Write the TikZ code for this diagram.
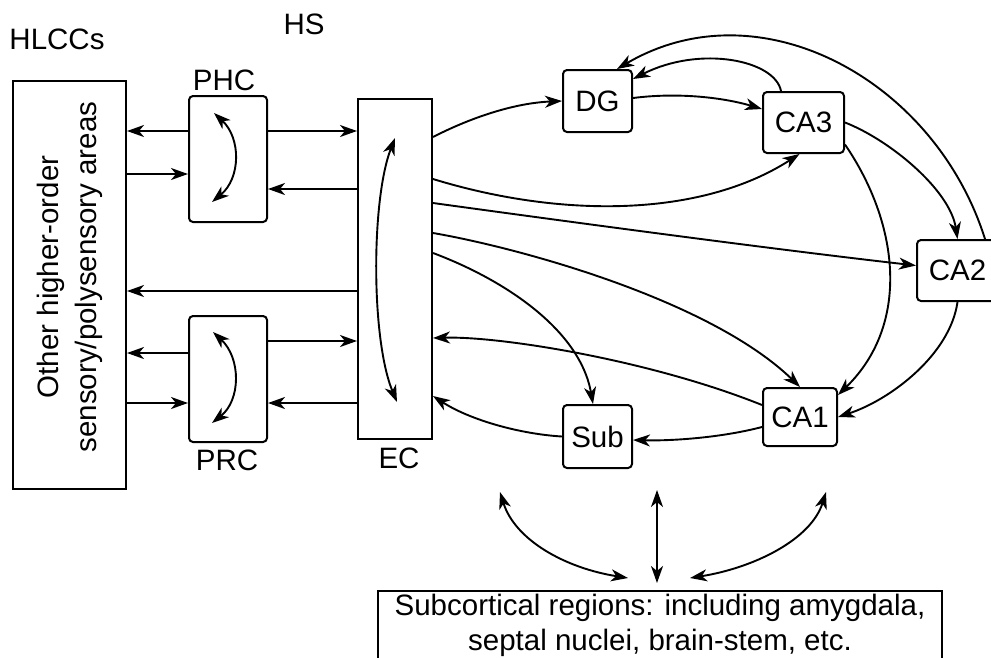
\documentclass[tikz,border=0pt]{standalone}
\usepackage{fontspec}
\setmainfont{Liberation Sans}
\usetikzlibrary{arrows.meta,calc}
\begin{document}
\begin{tikzpicture}[x=1pt,y=-1pt,
  >={Stealth[length=17pt,width=12pt,inset=5pt]},
  every node/.style={font=\fontsize{29.5}{35}\selectfont},
  rbox/.style={draw,line width=2pt,rounded corners=4pt,inner sep=0pt},
  sbox/.style={draw,line width=2pt,inner sep=0pt},
  arr/.style={->,line width=1.9pt},
  darr/.style={<->,line width=1.9pt},
  lbl/.style={inner sep=0pt}]
\useasboundingbox (0,0) rectangle (991,657);
\clip (0,0) rectangle (991,657);

% column headings
\node[lbl] (hlccs) at (57,39) {HLCCs};
\node[lbl] (hs) at (304,24) {HS};

% higher-order cortical areas
\node[sbox, minimum width=113pt, minimum height=408pt] (HL) at (69.5,285) {};
\node[lbl, rotate=90, align=center, font=\fontsize{29.5}{38}\selectfont] (hltext) at (70,277)
  {Other higher-order\\sensory/polysensory areas};

% parahippocampal / perirhinal / entorhinal
\node[rbox, minimum width=78pt, minimum height=126pt] (PHC) at (228,159) {};
\node[lbl] (phclbl) at (224,80) {PHC};
\node[rbox, minimum width=78pt, minimum height=126pt] (PRC) at (228,379) {};
\node[lbl] (prclbl) at (227,460) {PRC};
\node[sbox, minimum width=74pt, minimum height=340pt] (EC) at (395,269) {};
\node[lbl] (eclbl) at (399,458) {EC};

% hippocampal subfields
\node[rbox, minimum width=69pt, minimum height=62pt] (DG)  at (597.5,101)   {DG};
\node[rbox, minimum width=81pt, minimum height=61pt] (CA3) at (803.5,122.5) {CA3};
\node[rbox, minimum width=81pt, minimum height=61pt] (CA2) at (957.5,270.5) {CA2};
\node[rbox, minimum width=74pt, minimum height=58pt] (CA1) at (800,417)     {CA1};
\node[rbox, minimum width=69pt, minimum height=63pt] (Sub) at (597.5,436.5) {Sub};

% subcortical regions
\node[sbox, anchor=north, minimum width=564pt, minimum height=100pt] (SCbox) at (660,590) {};
\node[lbl, align=center] (SC) at (660,625)
  {Subcortical regions: including amygdala,\\septal nuclei, brain-stem, etc.};

% intrinsic connections within PHC, PRC and EC
\draw[darr] ($(PHC)+(-14,-46)$) .. controls ($(PHC)+(13,-21)$) and ($(PHC)+(13,19)$) .. ($(PHC)+(-16,43)$);
\draw[darr] ($(PRC)+(-15,-47)$) .. controls ($(PRC)+(13,-21)$) and ($(PRC)+(13,21)$) .. ($(PRC)+(-16,44)$);
\draw[darr] ($(EC)+(0,-131)$) .. controls ($(EC)+(-24,-69)$) and ($(EC)+(-24,71)$) .. ($(EC)+(2,133)$);

% cortical pathways
\draw[arr] ($(PHC.west)+(0,-28)$) -- ($(HL.east |- PHC.west)+(0,-28)$);
\draw[arr] ($(HL.east |- PHC.west)+(0,15)$) -- ($(PHC.west)+(0,15)$);
\draw[arr] ($(PHC.east)+(0,-28)$) -- ($(EC.west |- PHC.east)+(0,-28)$);
\draw[arr] ($(EC.west |- PHC.east)+(0,30)$) -- ($(PHC.east)+(0,30)$);
\draw[arr] ($(EC.west)+(0,22)$) -- ($(HL.east |- EC.west)+(0,22)$);
\draw[arr] ($(PRC.west)+(0,-26)$) -- ($(HL.east |- PRC.west)+(0,-26)$);
\draw[arr] ($(HL.east |- PRC.west)+(0,24)$) -- ($(PRC.west)+(0,24)$);
\draw[arr] ($(PRC.east)+(0,-38)$) -- ($(EC.west |- PRC.east)+(0,-38)$);
\draw[arr] ($(EC.west |- PRC.east)+(0,24)$) -- ($(PRC.east)+(0,24)$);

% hippocampal circuit
\draw[arr] ($(EC.east)+(0,-132)$) .. controls (472,117) and (515,103) .. (DG.west);
\draw[arr] ($(DG.east)+(0,-3)$) .. controls (680,92) and (725,98) .. ($(CA3.west)+(0,-13.5)$);
\draw[arr] ($(CA3.north)+(-22.5,0)$) .. controls (775,60) and (700,45) .. ($(DG.north east)+(0,10)$);
\draw[arr] ($(CA2.north)+(27.5,0)$) .. controls (935,80) and (760,-15) .. ($(DG.north)+(19.5,0)$);
\draw[arr] (CA3.east) .. controls (890,140) and (950,190) .. (CA2.north);
\draw[arr] ($(CA3.east)+(0,22)$) .. controls (900,225) and (910,325) .. ($(CA1.east)+(0,-22)$);
\draw[arr] (CA2.south) .. controls (950,355) and (890,400) .. (CA1.east);
\draw[arr] ($(EC.east)+(0,-90)$) .. controls (560,218) and (700,218) .. ($(CA3.south)+(-4,0)$);
\draw[arr] ($(EC.east)+(0,-66)$) .. controls (600,226) and (780,250) .. ($(CA2.west)+(0,-5)$);
\draw[arr] ($(EC.east)+(0,-36)$) .. controls (520,248) and (710,300) .. (CA1.north);
\draw[arr] ($(EC.east)+(0,-16)$) .. controls (505,280) and (580,330) .. ($(Sub.north)+(-4.5,0)$);
\draw[arr] ($(CA1.west)+(0,-12)$) .. controls (650,360) and (500,336) .. ($(EC.east)+(0,69)$);
\draw[arr] (Sub.west) .. controls (520,434) and (470,420) .. ($(EC.east)+(0,127)$);
\draw[arr] ($(CA1.west)+(0,10)$) .. controls (720,438) and (670,441) .. ($(Sub.east)+(0,3.5)$);

% reciprocal links with subcortical regions
\coordinate (bl1) at (500,492);
\coordinate (bl2) at (628,578);
\coordinate (bm1) at (657,490);
\coordinate (bm2) at (657,583);
\coordinate (br1) at (826,492);
\coordinate (br2) at (690,578);
\draw[darr] (bl1) .. controls (515,540) and (565,568) .. (bl2);
\draw[darr] (bm1) -- (bm2);
\draw[darr] (br1) .. controls (811,540) and (753,568) .. (br2);
\end{tikzpicture}
\end{document}
